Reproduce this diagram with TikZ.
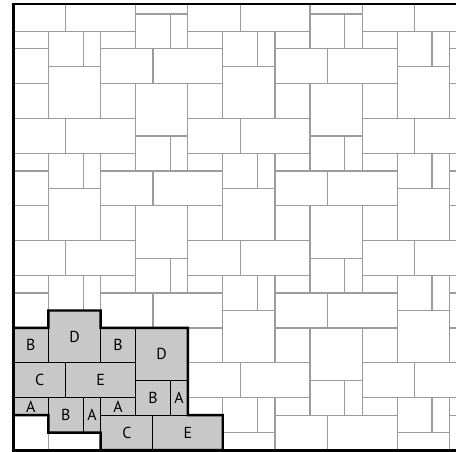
\documentclass[tikz,border=0pt]{standalone}
\usepackage{fontspec}
\setsansfont{PT Sans}
\usepackage{tikz}
\usetikzlibrary{positioning}
\definecolor{joint}{HTML}{9C9C9C}
\definecolor{paver}{HTML}{C8C8C8}
\tikzset{
  slab/.style={draw=joint,line width=1pt},
  pick/.style 2 args={draw=black,fill=paver,line width=0.8pt,inner sep=0pt,outer sep=0pt,
    minimum width=#1*5mm,minimum height=#2*5mm,font=\sffamily\fontsize{13}{15}\selectfont},
  pickout/.style={draw=black,line width=2pt,line join=miter},
  edgeline/.style={draw=black,line width=2.4pt,line join=miter},
}

\begin{document}
\begin{tikzpicture}[x=5mm,y=5mm]
  \useasboundingbox (-0.77,-0.06) rectangle (25.37,25.8);
  % the laid pattern, one 10 x 7 repeat per shift
  \begin{scope}
    \clip (0,0) rectangle (26,25.57);
    \foreach \i in {-1,0,1,2} {
      \foreach \j in {-1,0,...,3} {
        \foreach \x/\y/\w/\h in {0/5/2/2,2/5/3/3,5/5/2/2,7/4/3/3,0/3/3/2,3/3/4/2,0/2/2/1,
            2/1/2/2,4/1/1/2,5/2/2/1,7/2/2/2,9/2/1/2,5/0/3/2,8/0/4/2}
          \draw[slab] ({\x+10*\i},{\y+7*\j}) rectangle ++(\w,\h);
      }
    }
  \end{scope}
  % one repeat, marked
  \node[pick={2}{2}] (b1) at (1,6) {B};
  \node[pick={3}{3}] (d1) at (3.5,6.5) {D};
  \node[pick={2}{2}] (b2) at (6,6) {B};
  \node[pick={3}{3}] (d2) at (8.5,5.5) {D};
  \node[pick={3}{2}] (c1) at (1.5,4) {C};
  \node[pick={4}{2}] (e1) at (5,4) {E};
  \node[pick={2}{1}] (a1) at (1,2.5) {A};
  \node[pick={2}{2}] (b3) at (3,2) {B};
  \node[pick={1}{2}] (a2) at (4.5,2) {A};
  \node[pick={2}{1}] (a3) at (6,2.5) {A};
  \node[pick={2}{2}] (b4) at (8,3) {B};
  \node[pick={1}{2}] (a4) at (9.5,3) {A};
  \node[pick={3}{2}] (c2) at (6.5,1) {C};
  \node[pick={4}{2}] (e2) at (10,1) {E};
  \draw[pickout] (a1.south west) -- (b1.north west) -- (b1.north east) -- (d1.north west)
    -- (d1.north east) -- (b2.north west) -- (d2.north east) -- (a4.south east)
    -- (e2.north east) -- (e2.south east) -- (c2.south west) -- (a2.south east)
    -- (b3.south west) -- (a1.south east) -- cycle;
  \draw[edgeline] (26,25.57) -- (0,25.57) -- (0,0) -- (26,0);
\end{tikzpicture}
\end{document}
